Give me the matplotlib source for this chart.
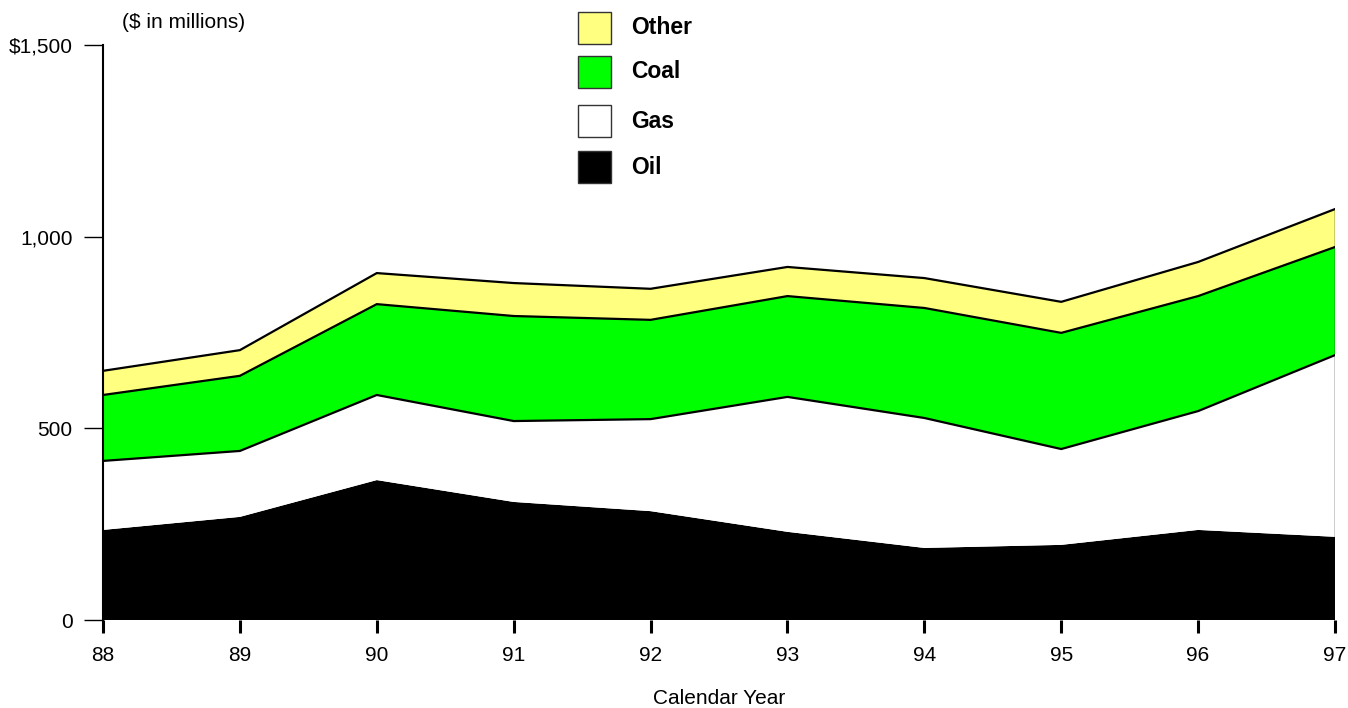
import numpy as np
import matplotlib.pyplot as plt
from matplotlib.patches import Rectangle

plt.rcParams['font.family'] = ['Liberation Sans', 'DejaVu Sans']

# Datos ($ en millones)
years = np.arange(88, 98)
oil = [235, 269, 365, 308, 284, 230, 188, 196, 235, 217]
gas = [180, 172, 222, 211, 240, 352, 339, 250, 310, 474]
coal = [172, 196, 237, 274, 259, 263, 287, 303, 300, 282]
other = [63, 67, 81, 86, 81, 76, 78, 81, 89, 99]

series = ["Oil", "Gas", "Coal", "Other"]
colors = ["#000000", "#ffffff", "#00ff00", "#ffff80"]
yticks = [0, 500, 1000, 1500]
yticklabels = ["0", "500", "1,000", "$1,500"]

fig = plt.figure(figsize=(13.48, 7.08), dpi=100)
ax = fig.add_axes([103/1348, 1 - 620/708, (1335 - 103)/1348, (620 - 45)/708])

ax.stackplot(years, oil, gas, coal, other, colors=colors, linewidth=0)

# bordes superiores de cada capa
tops = np.cumsum([oil, gas, coal, other], axis=0)
for t in tops[1:]:
    ax.plot(years, t, color="black", lw=1.6, solid_joinstyle="miter")
ax.plot([years[-1], years[-1]], [0, tops[-1][-1]], color="black", lw=1)

ax.set_xlim(88, 97)
ax.set_ylim(0, 1500)
for s in ["top", "right", "bottom"]:
    ax.spines[s].set_visible(False)
ax.spines["left"].set_linewidth(1.5)

ax.set_xticks(years)
ax.set_xticklabels([str(y) for y in years])
ax.set_yticks(yticks)
ax.set_yticklabels(yticklabels)
ax.tick_params(axis="x", direction="out", length=9, width=2.2, pad=10, labelsize=15)
ax.tick_params(axis="y", direction="out", length=14, width=1, pad=8, labelsize=15)

ax.set_xlabel("Calendar Year", fontsize=15, labelpad=17)
fig.text(122/1348, 1 - 22/708, "($ in millions)", fontsize=15, va="center", ha="left")

# leyenda manual
leg_y = [28, 72, 121, 167]
for name, col, yy in zip(series[::-1], colors[::-1], leg_y):
    fig.patches.append(Rectangle((578/1348, 1 - (yy + 16)/708), 33/1348, 32/708,
                                 transform=fig.transFigure, facecolor=col,
                                 edgecolor="#333333", lw=1))
    fig.text(631/1348, 1 - yy/708, name, fontsize=16.5, fontweight="bold",
             va="center", ha="left")

fig.savefig("out.png", dpi=100)
